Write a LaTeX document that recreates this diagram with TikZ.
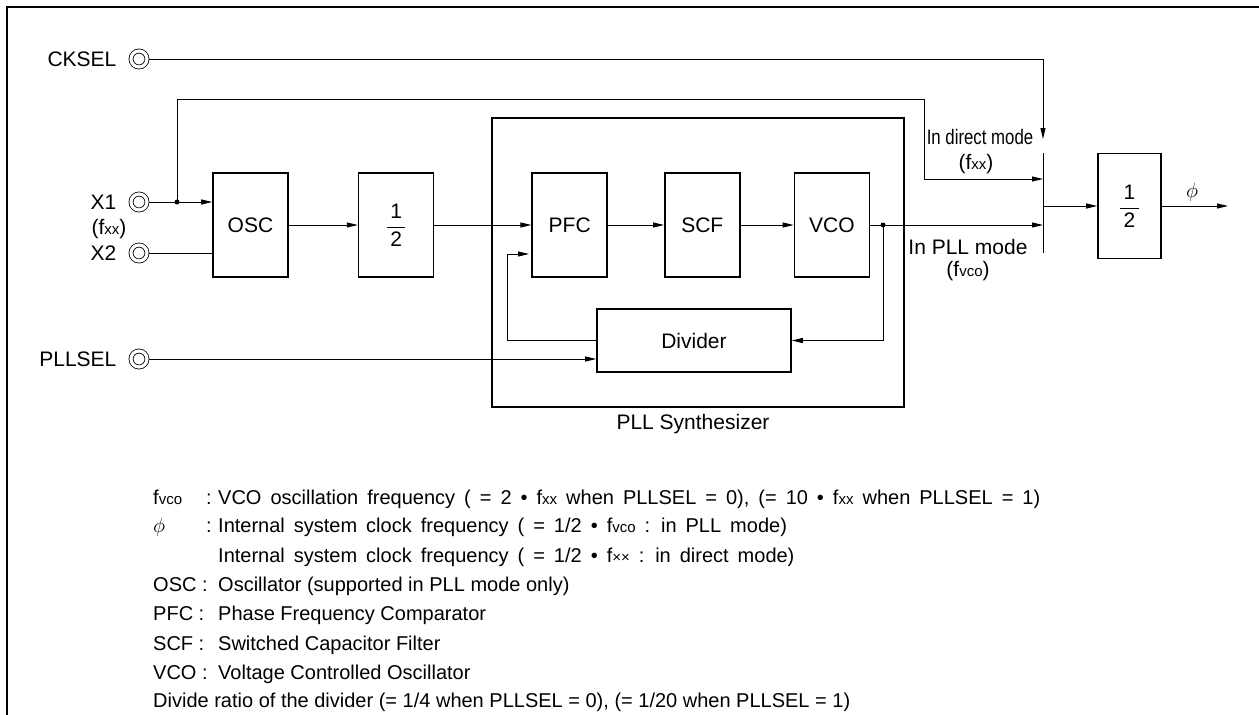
\documentclass[tikz,border=0pt]{standalone}
\usepackage{fontspec}
\setmainfont{Liberation Sans}
\usepackage{graphicx}
\usetikzlibrary{arrows.meta, positioning}

\newcommand{\lowtxt}[1]{{\fontsize{15}{15}\selectfont #1}}
\newcommand{\halfmark}{$\displaystyle\frac{\mbox{\,1\,}}{\mbox{\,2\,}}$}
\newcommand{\widesp}{\spaceskip 9pt\relax}

\begin{document}
\begin{tikzpicture}[
            x = 1pt, y = -1pt, % pixel grid of the sheet
            > = {Triangle[length=11pt, width=5pt]}, % arrow head style
            font = \fontsize{21}{25}\selectfont,
            sig/.style = {line width=0.9pt},
            blk/.style = {draw, line width=1.6pt, minimum width=75pt,
                minimum height=104pt, inner sep=0pt},
            term/.style = {circle, draw, double, double distance=3.2pt,
                line width=0.8pt, minimum size=16pt, inner sep=0pt, outer sep=2.4pt},
            lbl/.style = {inner sep=0pt},
            leg/.style = {inner sep=0pt, anchor=base west, font=\fontsize{20}{24}\selectfont},
            legwide/.style = {leg, font=\fontsize{20}{24}\selectfont\widesp}
        ]

        \useasboundingbox (0,0) rectangle (1259,715);
        \draw[line width=1.2pt] (7,715) -- (7,7) -- (1259,7);

        % terminals
        \node[term] (ck) at (139,59) {};
        \node[term] (x1) at (139,202) {};
        \node[term] (x2) at (139,253) {};
        \node[term] (pls) at (139,359) {};
        \node[lbl, left=12pt of ck] (cklbl) {CKSEL};
        \node[lbl, left=12pt of x1] (x1lbl) {X1};
        \node[lbl, left=12pt of x2] (x2lbl) {X2};
        \node[lbl, left=12pt of pls] (plslbl) {PLLSEL};
        \node[lbl] (x1f) at (109,229) {(f\lowtxt{xx})};

        % PLL synthesizer frame
        \node[draw, line width=1.6pt, minimum width=412pt, minimum height=289pt] (pll) at (698,262.5) {};
        \node[lbl] (plllbl) at (693,424) {PLL Synthesizer};

        % blocks
        \node[blk] (osc) at (250.5,225) {OSC};
        \node[blk, right=69pt of osc] (half1) {\halfmark};
        \node[blk, right=97pt of half1] (pfc) {PFC};
        \node[blk, right=56pt of pfc] (scf) {SCF};
        \node[blk, right=53pt of scf] (vco) {VCO};
        \node[blk, minimum width=194pt, minimum height=63pt] (div) at (694,340.5) {Divider};
        \node[blk, minimum width=63pt, minimum height=105pt] (half2) at (1129.5,206) {\halfmark};

        \coordinate (tap) at (177,202);
        \coordinate (bpc) at (924,99);
        \coordinate (dirin) at (1043,179);
        \coordinate (ckin) at (1043,139);
        \coordinate (vtap) at (883,225);
        \coordinate (pllin) at (1043,225);
        \coordinate (fbin) at (529,254);
        \coordinate (swt) at (1043,153);
        \coordinate (swb) at (1043,253);
        \coordinate (swo) at (1043,206);
        \coordinate (phiout) at (1228,206);

        \draw[sig, ->] (ck) -| (ckin);
        \draw[sig, ->] (x1) -- (x1 -| osc.west);
        \draw[sig] (x2) -- (x2 -| osc.west);
        \draw[sig, ->] (tap) |- (bpc) |- (dirin);
        \fill (tap) circle (2.5pt);

        \draw[sig, ->] (osc) -- (half1);
        \draw[sig, ->] (half1) -- (pfc);
        \draw[sig, ->] (pfc) -- (scf);
        \draw[sig, ->] (scf) -- (vco);
        \draw[sig, ->] (vco) -- (pllin);
        \fill (vtap) circle (2.5pt);
        \draw[sig, ->] (vtap) |- (div);
        \draw[sig, ->] (div.west) -- ++(-89,0) |- (fbin);
        \draw[sig, ->] (pls) -- (pls -| div.west);

        % mode switch
        \draw[sig] (swt) -- (swb);
        \draw[sig, ->] (swo) -- (half2);
        \draw[sig, ->] (half2) -- (phiout);
        \node[lbl] (phi) at (1192,192) {$\phi$};
        \node[lbl] (dirlbl) at (980,137) {\scalebox{0.8}[1]{In direct mode}};
        \node[lbl] (dirf) at (976,164) {(f\lowtxt{xx})};
        \node[lbl] (plmlbl) at (968,247) {In PLL mode};
        \node[lbl] (plmf) at (968,271) {(f\lowtxt{vco})};

        % legend
        \node[leg] (lg1k) at (153,504) {f\lowtxt{vco}};
        \node[leg] (lg1c) at (206,504) {:};
        \node[legwide] (lg1) at (218,504) {VCO oscillation frequency ( = 2 • f\lowtxt{xx} when PLLSEL = 0), (= 10 • f\lowtxt{xx} when PLLSEL = 1)};
        \node[leg] (lg2k) at (153,532) {$\phi$};
        \node[leg] (lg2c) at (206,532) {:};
        \node[legwide] (lg2) at (218,532) {Internal system clock frequency ( = 1/2 • f\lowtxt{vco} : in PLL mode)};
        \node[legwide] (lg3) at (218,562) {Internal system clock frequency ( = 1/2 • f\lowtxt{××} : in direct mode)};
        \node[leg] (lg4k) at (153,591) {OSC :};
        \node[leg] (lg4) at (218,591) {Oscillator (supported in PLL mode only)};
        \node[leg] (lg5k) at (153,620) {PFC :};
        \node[leg] (lg5) at (218,620) {Phase Frequency Comparator};
        \node[leg] (lg6k) at (153,650) {SCF :};
        \node[leg] (lg6) at (218,650) {Switched Capacitor Filter};
        \node[leg] (lg7k) at (153,679) {VCO :};
        \node[leg] (lg7) at (218,679) {Voltage Controlled Oscillator};
        \node[leg] (lg8) at (153,707) {Divide ratio of the divider (= 1/4 when PLLSEL = 0), (= 1/20 when PLLSEL = 1)};

  \end{tikzpicture}
\end{document}
